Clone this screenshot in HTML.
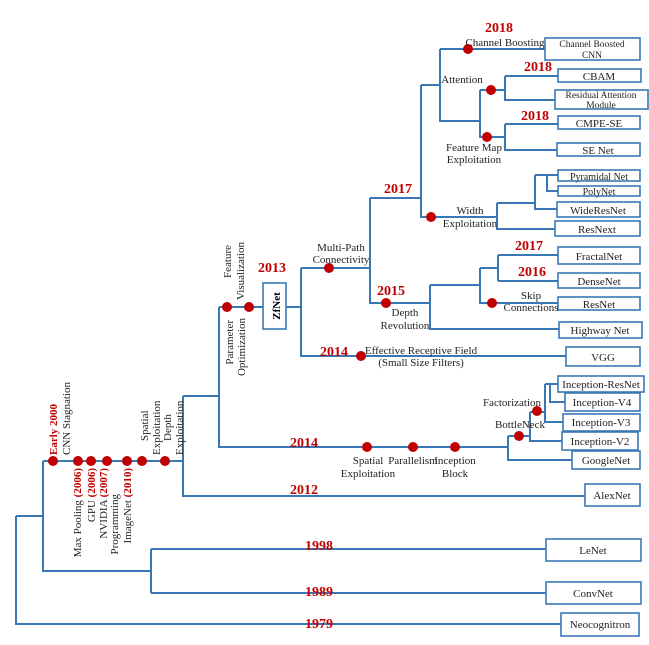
<!DOCTYPE html>
<html><head><meta charset="utf-8"><style>
html,body{margin:0;padding:0;background:#fff;}
svg{display:block;font-family:"Liberation Serif",serif;}
.l{fill:none;stroke:#3a78b5;stroke-width:2;}
.b{fill:#fff;stroke:#3a78b5;stroke-width:1.6;}
.d{fill:#c00000;}
.t{font-size:11px;fill:#222;}
.y{font-size:14px;font-weight:bold;fill:#c00000;}
.r{font-size:11px;font-weight:bold;fill:#c00000;}
.bt{font-size:11px;fill:#222;text-anchor:middle;}
</style></head><body>
<svg width="649" height="645" viewBox="0 0 649 645">
<g>
<path class="l" d="M16,516 V624 H561 M16,516 H43 M43,461 V571 H151 M151,549 V593 M151,549 H546 M151,593 H546 M43,461 H183 M183,396 V496 H585 M183,396 H219 M219,307 V447 H508 M219,307 H301 M301,268 V356 H566 M301,268 H370 M370,198 V303 H430 M430,285 V329 H559 M430,285 H480 M480,268 V303 H558 M480,268 H498 M498,255 V281 M498,255 H558 M498,281 H558 M370,198 H421 M421,85 V217 H497 M497,203 V229 H555 M497,203 H535 M535,175 V209 H557 M535,175 H547 M547,175 V191 H558 M547,175 H558 M421,85 H440 M440,49 V121 H480 M440,49 H545 M480,90 V137 H505 M480,90 H505 M505,76 V100 H555 M505,76 H558 M505,124 V150 H557 M505,124 H558 M508,436 V460 H572 M508,436 H530 M530,412 V441 H562 M530,412 H545 M545,384 V422 H563 M545,384 H558 M550,384 V402 H565"/>
</g>
<g>
<circle class="d" cx="53" cy="461" r="5"/><circle class="d" cx="78" cy="461" r="5"/><circle class="d" cx="91" cy="461" r="5"/><circle class="d" cx="107" cy="461" r="5"/><circle class="d" cx="127" cy="461" r="5"/><circle class="d" cx="142" cy="461" r="5"/><circle class="d" cx="165" cy="461" r="5"/>
<circle class="d" cx="227" cy="307" r="5"/><circle class="d" cx="249" cy="307" r="5"/>
<circle class="d" cx="329" cy="268" r="5"/><circle class="d" cx="361" cy="356" r="5"/><circle class="d" cx="386" cy="303" r="5"/><circle class="d" cx="492" cy="303" r="5"/>
<circle class="d" cx="431" cy="217" r="5"/><circle class="d" cx="468" cy="49" r="5"/><circle class="d" cx="491" cy="90" r="5"/><circle class="d" cx="487" cy="137" r="5"/>
<circle class="d" cx="367" cy="447" r="5"/><circle class="d" cx="413" cy="447" r="5"/><circle class="d" cx="455" cy="447" r="5"/><circle class="d" cx="519" cy="436" r="5"/><circle class="d" cx="537" cy="411" r="5"/>
</g>
<g>
<rect class="b" x="561" y="613" width="78" height="23"/><text class="bt" x="600" y="628">Neocognitron</text>
<rect class="b" x="546" y="539" width="95" height="22"/><text class="bt" x="593" y="554">LeNet</text>
<rect class="b" x="546" y="582" width="95" height="22"/><text class="bt" x="593" y="597">ConvNet</text>
<rect class="b" x="585" y="484" width="55" height="22"/><text class="bt" x="612" y="499">AlexNet</text>
<rect class="b" x="572" y="451" width="68" height="18"/><text class="bt" x="606" y="464">GoogleNet</text>
<rect class="b" x="562" y="432" width="76" height="18"/><text class="bt" x="600" y="445">Inception-V2</text>
<rect class="b" x="563" y="414" width="77" height="17"/><text class="bt" x="601" y="426">Inception-V3</text>
<rect class="b" x="565" y="393" width="75" height="18"/><text class="bt" x="602" y="406">Inception-V4</text>
<rect class="b" x="558" y="376" width="86" height="16"/><text class="bt" x="601" y="388">Inception-ResNet</text>
<rect class="b" x="566" y="347" width="74" height="19"/><text class="bt" x="603" y="361">VGG</text>
<rect class="b" x="559" y="322" width="83" height="16"/><text class="bt" x="600" y="334">Highway Net</text>
<rect class="b" x="558" y="297" width="82" height="13"/><text class="bt" x="599" y="308">ResNet</text>
<rect class="b" x="558" y="273" width="82" height="15"/><text class="bt" x="599" y="285">DenseNet</text>
<rect class="b" x="558" y="247" width="82" height="17"/><text class="bt" x="599" y="260">FractalNet</text>
<rect class="b" x="555" y="221" width="85" height="15"/><text class="bt" x="597" y="233">ResNext</text>
<rect class="b" x="557" y="202" width="83" height="15"/><text class="bt" x="598" y="214">WideResNet</text>
<rect class="b" x="558" y="186" width="82" height="10"/><text class="bt" x="599" y="195" style="font-size:10px">PolyNet</text>
<rect class="b" x="558" y="170" width="82" height="11"/><text class="bt" x="599" y="180" style="font-size:10px">Pyramidal Net</text>
<rect class="b" x="557" y="143" width="83" height="13"/><text class="bt" x="598" y="154">SE Net</text>
<rect class="b" x="558" y="116" width="82" height="13"/><text class="bt" x="599" y="127">CMPE-SE</text>
<rect class="b" x="555" y="90" width="93" height="19"/><text class="bt" x="601" y="98" style="font-size:9.5px">Residual Attention</text><text class="bt" x="601" y="108" style="font-size:9.5px">Module</text>
<rect class="b" x="558" y="69" width="83" height="13"/><text class="bt" x="599" y="80">CBAM</text>
<rect class="b" x="545" y="38" width="95" height="22"/><text class="bt" x="592" y="47" style="font-size:9.5px">Channel Boosted</text><text class="bt" x="592" y="58" style="font-size:9.5px">CNN</text>
<rect class="b" x="263" y="283" width="23" height="46"/>
<text x="280" y="306" text-anchor="middle" transform="rotate(-90 280 306)" style="font-size:11px;font-weight:bold;fill:#000">ZfNet</text>
</g>
<g>
<text class="y" x="305" y="628">1979</text><text class="y" x="305" y="596">1989</text><text class="y" x="305" y="550">1998</text><text class="y" x="290" y="494">2012</text><text class="y" x="290" y="447">2014</text><text class="y" x="320" y="356">2014</text><text class="y" x="258" y="272">2013</text><text class="y" x="377" y="295">2015</text><text class="y" x="384" y="193">2017</text><text class="y" x="515" y="250">2017</text><text class="y" x="518" y="276">2016</text><text class="y" x="485" y="32">2018</text><text class="y" x="524" y="71">2018</text><text class="y" x="521" y="120">2018</text>
</g>
<g>
<text class="bt" x="505" y="46">Channel Boosting</text>
<text class="bt" x="462" y="83">Attention</text>
<text class="bt" x="474" y="151">Feature Map</text><text class="bt" x="474" y="163">Exploitation</text>
<text class="bt" x="470" y="214">Width</text><text class="bt" x="470" y="227">Exploitation</text>
<text class="bt" x="341" y="251">Multi-Path</text><text class="bt" x="341" y="263">Connectivity</text>
<text class="bt" x="405" y="316">Depth</text><text class="bt" x="405" y="329">Revolution</text>
<text class="bt" x="531" y="299">Skip</text><text class="bt" x="531" y="311">Connections</text>
<text class="bt" x="421" y="354">Effective Receptive Field</text><text class="bt" x="421" y="366">(Small Size Filters)</text>
<text class="bt" x="368" y="464">Spatial</text><text class="bt" x="368" y="477">Exploitation</text>
<text class="bt" x="413" y="464">Parallelism</text>
<text class="bt" x="455" y="464">Inception</text><text class="bt" x="455" y="477">Block</text>
<text class="bt" x="520" y="428">BottleNeck</text>
<text class="bt" x="512" y="406">Factorization</text>
<text class="t" transform="translate(231,300) rotate(-90)"><tspan x="0" dx="22">Feature</tspan></text>
<text class="t" transform="translate(244,300) rotate(-90)">Visualization</text>
<text class="t" text-anchor="end" transform="translate(233,320) rotate(-90)">Parameter</text>
<text class="t" text-anchor="end" transform="translate(245,318) rotate(-90)">Optimization</text>
<text class="r" transform="translate(57,455) rotate(-90)">Early 2000</text>
<text class="t" transform="translate(70,455) rotate(-90)">CNN Stagnation</text>
<text class="t" transform="translate(148,455) rotate(-90)"><tspan x="0" dx="14">Spatial</tspan></text>
<text class="t" transform="translate(160,455) rotate(-90)">Exploitation</text>
<text class="t" transform="translate(171,455) rotate(-90)"><tspan x="0" dx="14">Depth</tspan></text>
<text class="t" transform="translate(183,455) rotate(-90)">Exploitation</text>
<text class="t" text-anchor="end" transform="translate(81,468) rotate(-90)">Max Pooling <tspan style="fill:#c00000;font-weight:bold">(2006)</tspan></text>
<text class="t" text-anchor="end" transform="translate(95,468) rotate(-90)">GPU <tspan style="fill:#c00000;font-weight:bold">(2006)</tspan></text>
<text class="t" text-anchor="end" transform="translate(107,468) rotate(-90)">NVIDIA <tspan style="fill:#c00000;font-weight:bold">(2007)</tspan></text>
<text class="t" text-anchor="end" transform="translate(118,494) rotate(-90)">Programming</text>
<text class="t" text-anchor="end" transform="translate(131,468) rotate(-90)">ImageNet <tspan style="fill:#c00000;font-weight:bold">(2010)</tspan></text>
</g>
</svg>
</body></html>
